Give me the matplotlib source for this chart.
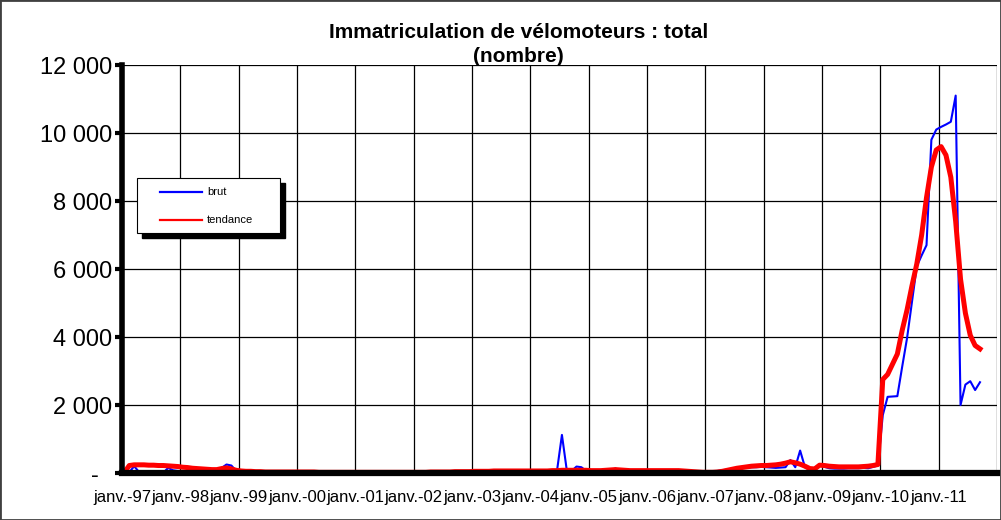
import matplotlib
matplotlib.use('Agg')
import matplotlib.pyplot as plt
import matplotlib.patches as mpatches
import numpy as np

plt.rcParams['font.family'] = ['Liberation Sans', 'DejaVu Sans']

# monthly values, janv. 1997 -> sept. 2011
brut_by_year = {
    1997: [0, 20, 200, 30, 10, 10, 10, 10, 10, 150, 80, 60],
    1998: [50, 40, 40, 40, 30, 30, 30, 40, 150, 250, 220, 60],
    1999: [40, 30, 30, 30, 30, 30, 30, 30, 30, 30, 30, 30],
    2000: [20, 20, 20, 20, 20, 20, 20, 20, 20, 20, 20, 20],
    2001: [20, 20, 20, 20, 20, 20, 20, 20, 20, 20, 20, 20],
    2002: [20, 20, 20, 30, 30, 30, 30, 30, 30, 30, 30, 30],
    2003: [40, 40, 40, 50, 50, 50, 50, 50, 50, 50, 50, 50],
    2004: [50, 50, 50, 50, 50, 80, 1120, 80, 60, 190, 170, 60],
    2005: [60, 60, 60, 60, 80, 130, 80, 60, 50, 50, 50, 50],
    2006: [50, 50, 50, 50, 50, 40, 20, 30, 20, 30, 40, 40],
    2007: [40, 40, 60, 80, 100, 120, 140, 150, 160, 170, 170, 180],
    2008: [170, 160, 150, 160, 170, 380, 170, 660, 170, 90, 150, 240],
    2009: [180, 140, 130, 130, 130, 140, 140, 140, 150, 140, 180, 220],
    2010: [1700, 2240, 2250, 2260, 3130, 3970, 5020, 6080, 6400, 6700, 9800, 10100],
    2011: [10180, 10250, 10330, 11100, 2000, 2600, 2700, 2440, 2670],
}

tendance_by_year = {
    1997: [20, 220, 240, 240, 240, 230, 230, 220, 220, 210, 200, 190],
    1998: [170, 160, 140, 130, 120, 110, 100, 100, 130, 150, 120, 80],
    1999: [60, 50, 50, 40, 40, 30, 30, 30, 30, 30, 30, 30],
    2000: [30, 30, 30, 30, 20, 20, 20, 20, 20, 20, 20, 20],
    2001: [20, 20, 20, 20, 20, 20, 20, 20, 20, 20, 20, 20],
    2002: [20, 20, 20, 30, 30, 30, 30, 30, 40, 40, 40, 40],
    2003: [50, 50, 50, 50, 60, 60, 60, 60, 60, 60, 60, 60],
    2004: [60, 60, 60, 60, 70, 70, 80, 80, 80, 80, 80, 80],
    2005: [70, 70, 70, 80, 90, 100, 90, 80, 70, 70, 70, 70],
    2006: [70, 70, 70, 70, 70, 70, 70, 60, 50, 40, 30, 20],
    2007: [20, 20, 30, 50, 80, 110, 140, 160, 180, 200, 210, 220],
    2008: [220, 230, 240, 260, 290, 330, 300, 260, 200, 130, 120, 230],
    2009: [220, 200, 190, 180, 180, 180, 180, 180, 190, 200, 220, 250],
    2010: [2750, 2900, 3200, 3500, 4200, 4800, 5500, 6150, 7000, 8100, 9000, 9500],
    2011: [9600, 9350, 8700, 7400, 5700, 4700, 4050, 3750, 3650],
}

years = list(range(1997, 2012))
x_labels = [f"janv.-{y % 100:02d}" for y in years]
y_ticks = [0, 2000, 4000, 6000, 8000, 10000, 12000]
y_labels = ["-  ", "2 000", "4 000", "6 000", "8 000", "10 000", "12 000"]

brut = np.array([v for y in years for v in brut_by_year[y]])
tendance = np.array([v for y in years for v in tendance_by_year[y]])
months = np.arange(len(brut)) + 0.5  # points sit in the middle of each month

W, H = 1001, 520
fig = plt.figure(figsize=(W / 100, H / 100), dpi=100)
ax = fig.add_axes([122 / W, 1 - 473 / H, (997 - 122) / W, (473 - 65) / H])


def px(x, y):
    return x / W, 1 - y / H


ax.plot(months, brut, color="#0000ff", linewidth=1.5, zorder=3)
ax.plot(months, tendance, color="#ff0000", linewidth=3.6, zorder=4,
        solid_joinstyle="round")

ax.set_xlim(0, 180)
ax.set_ylim(0, 12000)
ax.set_xticks(np.arange(0, 180, 12))
ax.set_xticklabels(x_labels, fontsize=12)
ax.set_yticks(y_ticks)
ax.set_yticklabels(y_labels, fontsize=17)

for x in range(12, 181, 12):
    ax.axvline(x, color="black", linewidth=0.9, zorder=1)
for y in y_ticks[1:]:
    ax.axhline(y, color="black", linewidth=0.9, zorder=1)

for side in ["top", "right"]:
    ax.spines[side].set_visible(False)
ax.spines["left"].set_linewidth(4)
ax.spines["bottom"].set_linewidth(4.5)
ax.spines["left"].set_zorder(5)
ax.spines["bottom"].set_zorder(5)
ax.tick_params(axis="y", direction="out", length=5, width=3, pad=2)
ax.tick_params(axis="x", direction="inout", length=5, width=3, pad=10)

# legend box with a hard black shadow
shadow = mpatches.Rectangle(px(142, 238), 143 / W, 55 / H, transform=fig.transFigure,
                            facecolor="black", edgecolor="black", zorder=6)
box = mpatches.Rectangle(px(137, 233), 143 / W, 55 / H, transform=fig.transFigure,
                         facecolor="white", edgecolor="black", linewidth=0.8, zorder=7)
fig.patches.extend([shadow, box])
for ypx, col, lab in [(192, "#0000ff", "brut"), (220, "#ff0000", "tendance")]:
    x0, y0 = px(160, ypx)
    x1, _ = px(202, ypx)
    fig.lines.append(plt.Line2D([x0, x1], [y0, y0], transform=fig.transFigure,
                                color=col, linewidth=1.6, zorder=8))
    tx, ty = px(207, ypx)
    fig.text(tx, ty, lab, fontsize=8, ha="left", va="center", zorder=8)

tx, ty = px(519, 33)
fig.text(tx, ty, "Immatriculation de vélomoteurs : total", fontsize=15,
         fontweight="bold", ha="center", va="center")
tx, ty = px(518, 56)
fig.text(tx, ty, "(nombre)", fontsize=15, fontweight="bold", ha="center", va="center")

fig.patches.append(mpatches.Rectangle((0, 0), 1, 1, transform=fig.transFigure,
                                      fill=False, edgecolor="#404040", linewidth=2))

fig.savefig("out.png", dpi=100)
